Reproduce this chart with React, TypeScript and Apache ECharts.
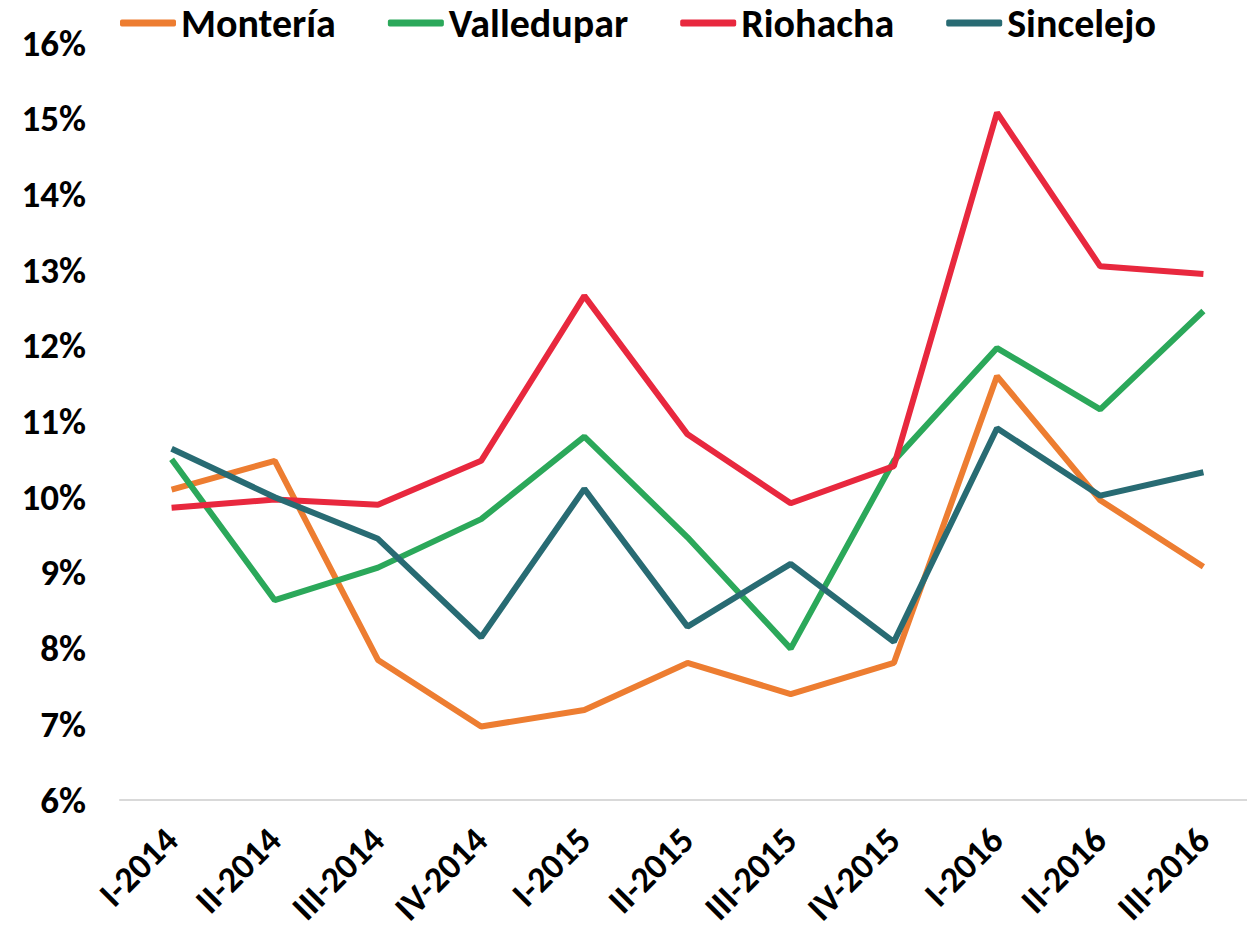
import React, { useEffect, useRef } from "react";
import * as echarts from "echarts";

const categories = ["I-2014", "II-2014", "III-2014", "IV-2014", "I-2015", "II-2015", "III-2015", "IV-2015", "I-2016", "II-2016", "III-2016"];
const monteria = [10.1, 10.48, 7.85, 6.97, 7.19, 7.81, 7.4, 7.81, 11.6, 9.96, 9.08];
const valledupar = [10.5, 8.64, 9.07, 9.71, 10.8, 9.47, 8.0, 10.48, 11.97, 11.16, 12.46];
const riohacha = [9.86, 9.97, 9.9, 10.48, 12.66, 10.83, 9.92, 10.41, 15.08, 13.05, 12.95];
const sincelejo = [10.64, 10.0, 9.45, 8.15, 10.11, 8.29, 9.12, 8.09, 10.91, 10.02, 10.33];
const yTicks = { min: 6, max: 16, interval: 1 };

const FONT = "Carlito, Lato, 'Liberation Sans', sans-serif";

export default function App() {
  const ref = useRef<HTMLDivElement>(null);
  useEffect(() => {
    if (!ref.current) return;
    const chart = echarts.init(ref.current, null, { renderer: "svg" });
    const mk = (name: string, data: number[], color: string) => ({
      name,
      type: "line",
      data,
      symbol: "none",
      lineStyle: { width: 6, color },
      itemStyle: { color },
    });
    chart.setOption({
      animation: false,
      backgroundColor: "#ffffff",
      legend: {
        top: 3,
        left: 115,
        padding: [0, 5, 0, 5],
        icon: "roundRect",
        itemWidth: 56,
        itemHeight: 7,
        itemGap: 52,
        textStyle: { fontFamily: FONT, fontSize: 40, fontWeight: "bold", color: "#000" },
      },
      grid: { left: 120, top: 43, width: 1135, height: 757, containLabel: false, outerBoundsMode: "none" },
      xAxis: {
        type: "category",
        data: categories,
        boundaryGap: true,
        axisLine: { lineStyle: { color: "#d9d9d9", width: 2 } },
        axisTick: { show: false },
        axisLabel: {
          rotate: 45,
          interval: 0,
          margin: 34,
          fontFamily: FONT,
          fontSize: 36,
          fontWeight: "bold",
          color: "#000",
        },
      },
      yAxis: {
        type: "value",
        min: yTicks.min,
        max: yTicks.max,
        interval: yTicks.interval,
        axisLine: { show: false },
        axisTick: { show: false },
        splitLine: { show: false },
        axisLabel: {
          formatter: "{value}%",
          margin: 34,
          fontFamily: FONT,
          fontSize: 37,
          fontWeight: "bold",
          color: "#000",
        },
      },
      series: [
        mk("Montería", monteria, "#ED7D31"),
        mk("Valledupar", valledupar, "#2BA85A"),
        mk("Riohacha", riohacha, "#E8283E"),
        mk("Sincelejo", sincelejo, "#286B73"),
      ],
    });
    return () => chart.dispose();
  }, []);
  return <div ref={ref} style={{ position: "fixed", left: 0, top: 0, width: 1247, height: 936 }} />;
}
